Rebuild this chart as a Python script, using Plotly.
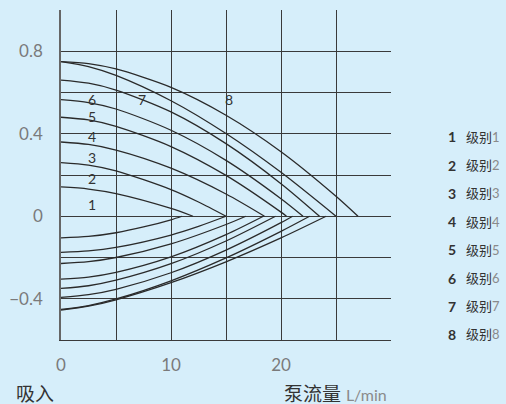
import plotly.graph_objects as go

# ---- data (flow L/min, pressure) ----
level_names = ["级别1", "级别2", "级别3", "级别4", "级别5", "级别6", "级别7", "级别8"]
level_ids = ["1", "2", "3", "4", "5", "6", "7", "8"]

# upper (discharge) curves
u1_x = [0, 2.5, 5, 10, 12]
u1_y = [0.142, 0.132, 0.110, 0.038, 0]
u2_x = [0, 2.5, 5, 10, 12.5, 15]
u2_y = [0.26, 0.248, 0.220, 0.129, 0.069, 0]
u3_x = [0, 2.5, 5, 10, 15, 18.5]
u3_y = [0.36, 0.348, 0.321, 0.233, 0.108, 0]
u4_x = [0, 2.5, 5, 10, 15, 20, 20.5]
u4_y = [0.48, 0.467, 0.436, 0.338, 0.198, 0.020, 0]
u5_x = [0, 2.5, 5, 10, 15, 20, 22]
u5_y = [0.565, 0.551, 0.520, 0.417, 0.271, 0.085, 0]
u6_x = [0, 2.5, 5, 10, 15, 20, 23.5]
u6_y = [0.66, 0.645, 0.612, 0.506, 0.352, 0.158, 0]
u7_x = [0, 2.5, 5, 10, 15, 20, 25]
u7_y = [0.75, 0.726, 0.683, 0.560, 0.401, 0.213, 0]
u8_x = [0, 2.5, 5, 10, 15, 20, 25, 27]
u8_y = [0.75, 0.740, 0.714, 0.625, 0.490, 0.313, 0.097, 0]

# lower (suction) curves
l1_x = [0, 2.5, 5, 7.5, 10, 11]
l1_y = [-0.105, -0.098, -0.080, -0.052, -0.017, 0]
l2_x = [0, 2.5, 5, 10, 12.5, 15]
l2_y = [-0.175, -0.168, -0.151, -0.091, -0.049, 0]
l3_x = [0, 2.5, 5, 10, 15, 16.8]
l3_y = [-0.229, -0.220, -0.200, -0.134, -0.040, 0]
l4_x = [0, 2.5, 5, 10, 15, 18.4]
l4_y = [-0.305, -0.295, -0.272, -0.197, -0.089, 0]
l5_x = [0, 2.5, 5, 10, 15, 19.5]
l5_y = [-0.35, -0.337, -0.310, -0.230, -0.120, 0]
l6_x = [0, 2.5, 5, 10, 15, 20, 21.05]
l6_y = [-0.393, -0.380, -0.354, -0.274, -0.164, -0.031, 0]
l7_x = [0, 2.5, 5, 10, 15, 20, 22.6]
l7_y = [-0.452, -0.433, -0.401, -0.313, -0.202, -0.073, 0]
l8_x = [0, 2.5, 5, 10, 15, 20, 24.1]
l8_y = [-0.455, -0.436, -0.405, -0.322, -0.221, -0.105, 0]

# in-chart curve labels (position of label per level)
label_x = [2.8, 2.8, 2.8, 2.8, 2.8, 2.8, 7.4, 15.3]
label_y = [0.058, 0.184, 0.285, 0.386, 0.483, 0.565, 0.565, 0.565]

x_tick_vals = [0, 10, 20]
x_tick_text = ["0", "10", "20"]
x_minor_vals = [5, 15, 25]
y_tick_vals = [-0.4, 0, 0.4, 0.8]
y_tick_text = ["\u22120.4", "0", "0.4", "0.8"]
y_minor_vals = [-0.2, 0.2, 0.6]

upper = [(u1_x, u1_y), (u2_x, u2_y), (u3_x, u3_y), (u4_x, u4_y),
         (u5_x, u5_y), (u6_x, u6_y), (u7_x, u7_y), (u8_x, u8_y)]
lower = [(l1_x, l1_y), (l2_x, l2_y), (l3_x, l3_y), (l4_x, l4_y),
         (l5_x, l5_y), (l6_x, l6_y), (l7_x, l7_y), (l8_x, l8_y)]

BG = "#d6eefa"
LINE = "#2a2a2a"
GRID = "#3a3a3a"
FONT = "Lato, 'Noto Sans CJK SC', sans-serif"

fig = go.Figure()
for i in range(8):
    for xs, ys in (upper[i], lower[i]):
        fig.add_trace(go.Scatter(
            x=xs, y=ys, mode="lines", name=level_names[i],
            line=dict(color=LINE, width=1.3, shape="spline", smoothing=0.8),
            showlegend=False, hoverinfo="skip"))

annotations = []
for i in range(8):
    annotations.append(dict(
        x=label_x[i], y=label_y[i], xref="x", yref="y", text=level_ids[i],
        showarrow=False, font=dict(size=14, color="#333333", family=FONT),
        xanchor="center", yanchor="middle"))

# right-side legend as text
legend_top_px = 137
legend_step_px = 28.2
plot_top_px, plot_h_px = 10, 330
plot_left_px, plot_w_px = 61, 330
for i in range(8):
    ypx = legend_top_px + i * legend_step_px
    yp = 1 - (ypx - plot_top_px) / plot_h_px
    annotations.append(dict(
        x=(446 - plot_left_px) / plot_w_px, y=yp, xref="paper", yref="paper",
        text=("<b>%s</b>" % level_ids[i]), showarrow=False,
        font=dict(size=14, color="#333333", family=FONT),
        xanchor="left", yanchor="middle"))
    annotations.append(dict(
        x=(464 - plot_left_px) / plot_w_px, y=yp, xref="paper", yref="paper",
        text=level_names[i][:2] + "<span style='color:#8a8a8a'>" + level_names[i][2:] + "</span>",
        showarrow=False,
        font=dict(size=13, color="#333333", family=FONT),
        xanchor="left", yanchor="middle"))

# axis titles
annotations.append(dict(
    x=(14 - plot_left_px) / plot_w_px, y=-(393 - 340) / plot_h_px,
    xref="paper", yref="paper", text="吸入", showarrow=False,
    font=dict(size=19, color="#333333", family=FONT),
    xanchor="left", yanchor="middle"))
annotations.append(dict(
    x=(389 - plot_left_px) / plot_w_px, y=-(393 - 340) / plot_h_px,
    xref="paper", yref="paper",
    text="泵流量 <span style='font-size:16px;color:#8a8a8a'>L/min</span>",
    showarrow=False,
    font=dict(size=19, color="#333333", family=FONT),
    xanchor="right", yanchor="middle"))

fig.update_layout(
    width=506, height=404,
    margin=dict(l=61, r=115, t=10, b=64),
    paper_bgcolor=BG, plot_bgcolor=BG,
    font=dict(family=FONT, color="#7a7a7a", size=16),
    annotations=annotations,
    showlegend=False,
)
fig.update_xaxes(
    range=[0, 30], tickvals=x_tick_vals, ticktext=x_tick_text,
    showgrid=True, gridcolor=GRID, gridwidth=1,
    minor=dict(tickvals=x_minor_vals, showgrid=True, gridcolor=GRID, gridwidth=1),
    zeroline=False, showline=True, linecolor=GRID, linewidth=1,
    ticks="", ticklabelstandoff=10,
    tickfont=dict(size=17, color="#7a7a7a", family=FONT),
)
fig.update_yaxes(
    range=[-0.6, 1.0], tickvals=y_tick_vals, ticktext=y_tick_text,
    showgrid=True, gridcolor=GRID, gridwidth=1,
    minor=dict(tickvals=y_minor_vals, showgrid=True, gridcolor=GRID, gridwidth=1),
    zeroline=False, showline=True, linecolor="#666666", linewidth=1.5,
    ticks="", ticklabelstandoff=13,
    tickfont=dict(size=17, color="#7a7a7a", family=FONT),
)

fig.write_html(
    "out.html",
    config={"displayModeBar": False},
    post_script="document.body.style.margin='0';document.body.style.background='%s';" % BG,
)
